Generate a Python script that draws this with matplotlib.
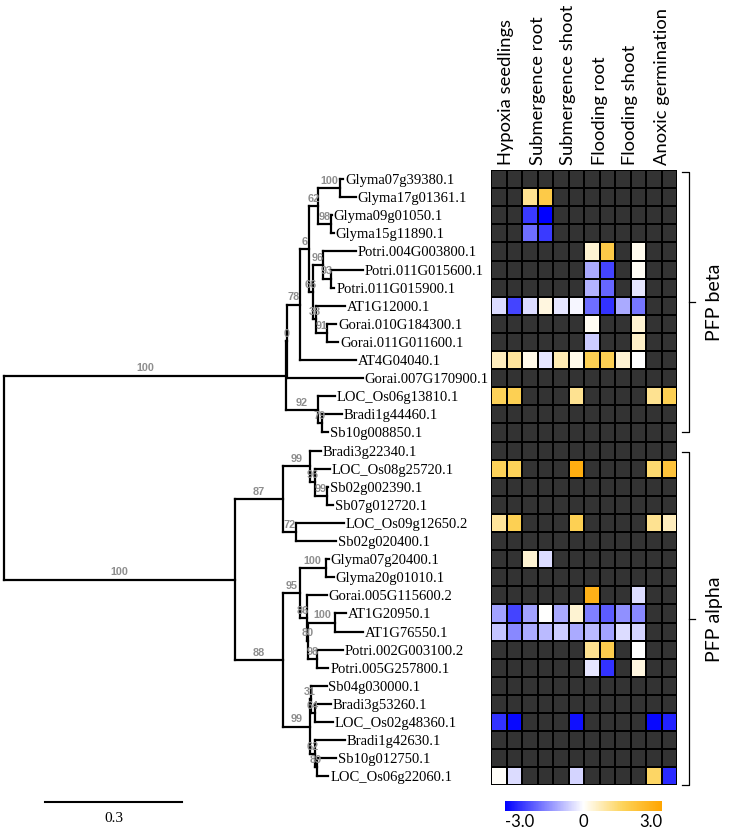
import numpy as np
import matplotlib
matplotlib.use("Agg")
import matplotlib.pyplot as plt
from matplotlib.colors import LinearSegmentedColormap
from matplotlib.cm import ScalarMappable
from matplotlib.colors import Normalize

# tree (newick, bootstrap values as node labels)
beta_tree = ("((((((Glyma07g39380.1:0.007,Glyma17g01361.1:0.035)100:0.048,"
             "(Glyma09g01050.1:0.002,Glyma15g11890.1:0.007)98:0.028)62:0.020,"
             "((Potri.004G003800.1:0.072,(Potri.011G015600.1:0.070,Potri.011G015900.1:0.007)93:0.018)96:0.022,"
             "(AT1G12000.1:0.063,(Gorai.010G184300.1:0.020,Gorai.011G011600.1:0.024)91:0.024)38:0.007)66:0.009)6:0.020,"
             "AT4G04040.1:0.123)78:0.028,Gorai.007G170900.1:0.166)0:0.002,"
             "(LOC_Os06g13810.1:0.037,(Bradi1g44460.1:0.044,Sb10g008850.1:0.013)79:0.009)92:0.070)100:0.617")
alpha_tree = ("(((Bradi3g22340.1:0.024,(LOC_Os08g25720.1:0.033,(Sb02g002390.1:0.004,Sb07g012720.1:0.015)99:0.026)96:0.011)99:0.059,"
              "(LOC_Os09g12650.2:0.105,Sb02g020400.1:0.088)72:0.028)87:0.105,"
              "(((Glyma07g20400.1:0.007,Glyma20g01010.1:0.018)100:0.057,"
              "(Gorai.005G115600.2:0.044,((AT1G20950.1:0.024,AT1G76550.1:0.061)100:0.059,"
              "(Potri.002G003100.2:0.057,Potri.005G257800.1:0.026)98:0.018)80:0.004)86:0.015)95:0.037,"
              "((Sb04g030000.1:0.035,(Bradi3g53260.1:0.035,LOC_Os02g48360.1:0.039)64:0.009)31:0.002,"
              "(Bradi1g42630.1:0.066,(Sb10g012750.1:0.043,LOC_Os06g22060.1:0.026)89:0.004)62:0.011)99:0.059)88:0.105)100:0.505")
newick = "(" + beta_tree + "," + alpha_tree + ");"

conditions = ["Hypoxia seedlings", "Submergence root", "Submergence shoot",
              "Flooding root", "Flooding shoot", "Anoxic germination"]

n = None
# log2 fold change, 2 columns per condition, None = no data
expr = [
    [n, n, n, n, n, n, n, n, n, n, n, n],
    [n, n, 1.0, 1.8, n, n, n, n, n, n, n, n],
    [n, n, -2.3, -3.0, n, n, n, n, n, n, n, n],
    [n, n, -1.7, -2.3, n, n, n, n, n, n, n, n],
    [n, n, n, n, n, n, 0.4, 1.8, n, 0.15, n, n],
    [n, n, n, n, n, n, -1.0, -2.2, n, 0.1, n, n],
    [n, n, n, n, n, n, -0.9, -1.8, n, -0.3, n, n],
    [-0.4, -2.2, -0.4, 0.3, -0.3, -0.1, -1.7, -2.4, -1.0, -1.6, n, n],
    [n, n, n, n, n, n, 0.1, n, n, 0.4, n, n],
    [n, n, n, n, n, n, -0.6, n, n, 0.5, n, n],
    [0.6, 0.9, 0.2, -0.3, 0.7, 0.2, 1.6, 1.6, 0.4, 0.0, n, n],
    [n, n, n, n, n, n, n, n, n, n, n, n],
    [1.5, 1.6, n, n, n, 1.0, n, n, n, n, 1.0, 1.6],
    [n, n, n, n, n, n, n, n, n, n, n, n],
    [n, n, n, n, n, n, n, n, n, n, n, n],
    [n, n, n, n, n, n, n, n, n, n, n, n],
    [1.5, 1.5, n, n, n, 2.7, n, n, n, n, 1.3, 2.0],
    [n, n, n, n, n, n, n, n, n, n, n, n],
    [n, n, n, n, n, n, n, n, n, n, n, n],
    [0.9, 1.6, n, n, n, 1.6, n, n, n, n, 1.0, 0.6],
    [n, n, n, n, n, n, n, n, n, n, n, n],
    [n, n, 0.4, -0.4, n, n, n, n, n, n, n, n],
    [n, n, n, n, n, n, n, n, n, n, n, n],
    [n, n, n, n, n, n, 2.6, n, n, -0.4, n, n],
    [-1.1, -2.2, -1.1, 0.0, -1.0, 0.4, -1.5, -1.9, -1.3, -1.4, n, n],
    [-0.7, -1.4, -1.0, -0.8, -0.6, -1.0, -0.8, -1.1, -0.4, -0.5, n, n],
    [n, n, n, n, n, n, 1.0, 1.7, n, 0.0, n, n],
    [n, n, n, n, n, n, -0.3, -2.4, n, 0.3, n, n],
    [n, n, n, n, n, n, n, n, n, n, n, n],
    [n, n, n, n, n, n, n, n, n, n, n, n],
    [-2.4, -2.9, n, n, n, -2.8, n, n, n, n, -2.9, -2.6],
    [n, n, n, n, n, n, n, n, n, n, n, n],
    [n, n, n, n, n, n, n, n, n, n, n, n],
    [0.05, -0.4, n, n, n, -0.5, n, n, n, n, 1.4, -2.5],
]

groups = ["PFP beta", "PFP alpha"]
group_rows = [(0.1, 14.5), (15.6, 34.0)]
scale_len = 0.3


def parse(s):
    pos = 0

    def node():
        nonlocal pos
        nd = {"children": [], "name": "", "len": 0.0}
        if s[pos] == "(":
            pos += 1
            while True:
                nd["children"].append(node())
                if s[pos] == ",":
                    pos += 1
                else:
                    break
            pos += 1
        start = pos
        while s[pos] not in ":,);":
            pos += 1
        nd["name"] = s[start:pos]
        if s[pos] == ":":
            pos += 1
            start = pos
            while s[pos] not in ",);":
                pos += 1
            nd["len"] = float(s[start:pos])
        return nd
    return node()


leaf_count = [0]


def layout(nd, x0):
    nd["x"] = x0 + nd["len"]
    if nd["children"]:
        for c in nd["children"]:
            layout(c, nd["x"])
        nd["y"] = (nd["children"][0]["y"] + nd["children"][-1]["y"]) / 2
    else:
        nd["y"] = leaf_count[0] + 0.5
        leaf_count[0] += 1


root = parse(newick)
layout(root, 0.0)

W, H = 729, 830
PX = 457.0      # pixels per tree unit
TOP = 170.0     # top of heatmap, px
ROW = 18.1      # row height, px
CW = 15.5       # cell width, px
HX0 = 491.0     # heatmap left, px

fig = plt.figure(figsize=(W / 100, H / 100), dpi=100)
ax = fig.add_axes([0, 0, 1, 1])
ax.set_xlim(-4 / PX, (W - 4) / PX)
ax.set_ylim((H - TOP) / ROW, -TOP / ROW)
ax.axis("off")

lw = 1.6


def draw(nd, parent):
    if parent is not None:
        ax.plot([parent["x"], nd["x"]], [nd["y"], nd["y"]], color="black", lw=lw,
                solid_capstyle="projecting")
    if nd["children"]:
        ys = [c["y"] for c in nd["children"]]
        ax.plot([nd["x"], nd["x"]], [min(ys), max(ys)], color="black", lw=lw,
                solid_capstyle="projecting")
        if nd["name"] and parent is not None:
            ax.text((parent["x"] + nd["x"]) / 2, nd["y"] - 0.12, nd["name"],
                    ha="center", va="bottom", color="#8e8e8e", fontsize=7.8,
                    fontweight="bold", family="Liberation Sans")
        for c in nd["children"]:
            draw(c, nd)
    else:
        ax.text(nd["x"] + 0.004, nd["y"], nd["name"], ha="left", va="center_baseline",
                fontsize=10.5, family="Liberation Serif")


draw(root, None)

# scale bar
sb_y = (802 - TOP) / ROW
sb_x0 = (45 - 4) / PX
ax.plot([sb_x0, sb_x0 + scale_len], [sb_y, sb_y], color="black", lw=1.5)
ax.text(sb_x0 + scale_len / 2, sb_y + 0.55, "0.3", ha="center", va="top",
        fontsize=11, family="Liberation Serif")

# heatmap
data = np.array([[np.nan if v is None else v for v in r] for r in expr], dtype=float)
nrow, ncol = data.shape
cmap = LinearSegmentedColormap.from_list(
    "bwo", [(0, "#0000ff"), (0.5, "#ffffff"), (0.75, "#fdd35a"), (1, "#ffa500")])
cmap = cmap.with_extremes(bad="#333333")

hx = fig.add_axes([HX0 / W, 1 - (TOP + nrow * ROW) / H, ncol * CW / W, nrow * ROW / H])
hx.pcolormesh(np.ma.masked_invalid(data), cmap=cmap, vmin=-3, vmax=3,
              edgecolors="black", linewidth=1.1)
hx.set_xlim(0, ncol)
hx.set_ylim(nrow, 0)
hx.axis("off")

for k, lab in enumerate(conditions):
    hx.text(2 * k + 1, -0.3, lab, rotation=90, ha="center", va="bottom",
            fontsize=13.2, family="Lato")

# group brackets
for lab, (y0, y1) in zip(groups, group_rows):
    bx0, bx1, bx2 = 12.35, 12.75, 13.15
    ym = (y0 + y1) / 2
    hx.plot([bx0, bx1, bx1, bx0], [y0, y0, y1, y1], color="black", lw=0.9, clip_on=False)
    hx.plot([bx1, bx2], [ym, ym], color="black", lw=0.9, clip_on=False)
    hx.text(14.45, ym, lab, rotation=90, ha="center", va="center",
            fontsize=14, family="Lato")

# colour bar
cax = fig.add_axes([505 / W, 1 - 811 / H, 157 / W, 10.5 / H])
cb = fig.colorbar(ScalarMappable(norm=Normalize(-3, 3), cmap=cmap), cax=cax,
                  orientation="horizontal")
cb.outline.set_visible(False)
cb.set_ticks([-3, 0, 3])
cb.set_ticklabels(["-3.0", "0", "3.0"])
cax.tick_params(length=0, pad=2, labelsize=12)
tl = cax.get_xticklabels()
tl[0].set_ha("left")
tl[2].set_ha("right")
for t in tl:
    t.set_family("Lato")

fig.savefig("out.png", dpi=100)
